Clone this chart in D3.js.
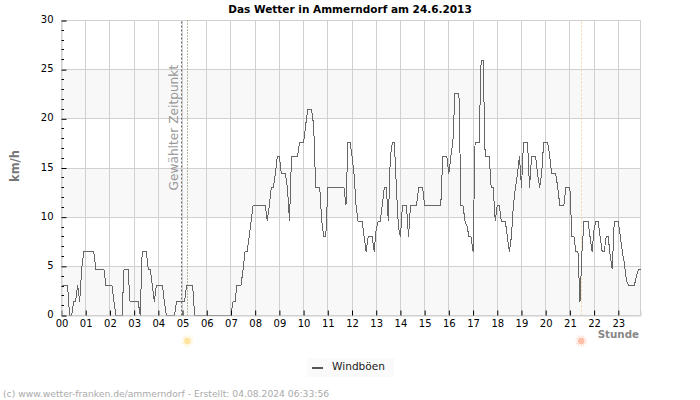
<!DOCTYPE html>
<html>
<head>
<meta charset="utf-8">
<script src="https://cdn.jsdelivr.net/npm/d3@7"></script>
<style>
  html, body { margin: 0; padding: 0; background: #fff; }
  svg { display: block; font-family: "DejaVu Sans", sans-serif; }
</style>
</head>
<body>
<div id="chart"></div>
<script>
var title = "Das Wetter in Ammerndorf am 24.6.2013";
var footer = "(c) www.wetter-franken.de/ammerndorf - Erstellt: 04.08.2024 06:33:56";
var hourLabels = ["00","01","02","03","04","05","06","07","08","09","10","11","12","13","14","15","16","17","18","19","20","21","22","23"];
var speedTicks = [0, 5, 10, 15, 20, 25, 30];
var minorTicks = [1,2,3,4,6,7,8,9,11,12,13,14,16,17,18,19,21,22,23,24,26,27,28,29];
var bands = [[0, 5], [10, 15], [20, 25]];

// in hours
var selectedTime = 4.94;
var sunrise = 5.2;
var sunset = 21.47;

// windboeen, one value every 5 minutes
var gusts = [
  3.1,3.1,3.1,3.1,0,0,1.4,1.4,3.1,1.4,4.7,6.5,
  6.5,6.5,6.5,6.5,6.5,4.7,4.7,4.7,4.7,4.7,3.1,3.1,
  3.1,3.1,1.4,0,0,0,0,4.7,4.7,4.7,1.4,1.4,
  1.4,1.4,1.4,0,6.5,6.5,6.5,4.7,4.7,3.1,1.4,3.1,
  3.1,3.1,3.1,1.4,0,0,0,0,0,1.4,1.4,1.4,
  1.4,1.4,3.1,3.1,3.1,3.1,0,0,0,0,0,0,
  0,0,0,0,0,0,0,0,0,0,0,0,
  0,1.4,1.4,3.1,3.1,3.1,4.7,6.5,6.5,8,9.6,11.2,
  11.2,11.2,11.2,11.2,11.2,11.2,9.6,11.2,13,13,14.4,16.2,
  16.2,14.4,14.4,14.4,13,9.6,16.2,16.2,16.2,16.2,17.6,17.6,
  17.6,19.3,20.9,20.9,20.9,19.3,13,13,13,9.6,8,8,
  13,13,13,13,13,13,13,13,13,11.2,17.6,17.6,
  16.2,14.4,11.2,9.6,9.6,9.6,8,6.5,8,8,8,
  6.5,8.8,9.6,9.6,11.2,13,13,9.6,16.2,17.6,17.6,13,
  9,8,11.2,11.2,11.2,8,11.2,11.2,11.2,11.2,13,13,
  13,11.2,11.2,11.2,11.2,11.2,11.2,11.2,11.2,11.2,16.2,16.2,
  16.2,14.4,16.2,17.6,22.6,22.6,22.6,11.2,11.2,9.6,9.1,8,
  8,6.5,17.6,17.6,17.6,25.9,25.9,16.2,16.2,16.2,13,13,
  9.6,11.2,11.2,9.6,9.6,9.6,8,6.5,8,11.2,13,14.4,
  16.2,13,17.6,17.6,17.6,13,16.2,16.2,16.2,14.4,13,14.4,
  17.6,17.6,17.6,16.2,14.4,14.4,14.4,13,11.2,11.2,11.2,13,
  13,13,8,8,6.5,6.5,1.4,6.5,9.6,9.6,9.6,8,
  6.5,8.8,9.6,9.6,8,6.5,6.5,8,8,6,4.7,9.6,
  9.6,9.6,8,6.5,5.3,3.6,3.1,3.1,3.1,3.1,4,4.7,4.7
];

var width = 700, height = 400;
var margin = {top: 20.5, right: 59.5, bottom: 84.5, left: 61.5};
var lastHour = (gusts.length - 1) / 12;

var x = d3.scaleLinear()
    .domain([0, lastHour])
    .range([margin.left, width - margin.right]);

var y = d3.scaleLinear()
    .domain([0, 30])
    .range([height - margin.bottom, margin.top]);

var svg = d3.select("#chart").append("svg")
    .attr("width", width)
    .attr("height", height);

// gestreifter hintergrund
svg.selectAll(".band")
  .data(bands)
  .enter().append("rect")
  .attr("class", "band")
  .attr("x", x(0))
  .attr("width", x(lastHour) - x(0))
  .attr("y", function(d) { return y(d[1]); })
  .attr("height", function(d) { return y(d[0]) - y(d[1]); })
  .style("fill", "#f8f8f8");

// grid
svg.selectAll(".hgrid")
  .data(speedTicks)
  .enter().append("line")
  .attr("x1", x(0))
  .attr("x2", x(lastHour))
  .attr("y1", function(d) { return Math.round(y(d) - 0.5) + 0.5; })
  .attr("y2", function(d) { return Math.round(y(d) - 0.5) + 0.5; })
  .style("stroke", "#d0d0d0");

svg.selectAll(".vgrid")
  .data(hourLabels)
  .enter().append("line")
  .attr("x1", function(d, i) { return Math.round(x(i) - 0.5) + 0.5; })
  .attr("x2", function(d, i) { return Math.round(x(i) - 0.5) + 0.5; })
  .attr("y1", y(0))
  .attr("y2", y(30))
  .style("stroke", "#d0d0d0");

svg.append("line")
  .attr("x1", x(lastHour)).attr("x2", x(lastHour))
  .attr("y1", y(0)).attr("y2", y(30))
  .style("stroke", "#d0d0d0");

// gewaehlter zeitpunkt und sonnenauf-/untergang
function marker(hour, color, dash) {
  svg.append("line")
    .attr("x1", Math.round(x(hour) - 0.5) + 0.5)
    .attr("x2", Math.round(x(hour) - 0.5) + 0.5)
    .attr("y1", y(0))
    .attr("y2", y(30))
    .style("stroke", color)
    .style("stroke-dasharray", dash);
}
marker(selectedTime, "#666", "2,2");
marker(sunrise, "#77703a", "1,2");
marker(sunset, "#f5d5a5", "2,2");

svg.append("text")
  .attr("transform", "translate(" + (x(selectedTime) - 3.5) + ",190.5) rotate(-90)")
  .style("font-size", "12.2px")
  .style("fill", "#999")
  .text("Gewählter Zeitpunkt");

var line = d3.line()
    .x(function(d, i) { return x(i / 12); })
    .y(function(d) { return y(d); });

svg.append("path")
  .datum(gusts)
  .attr("d", line)
  .style("fill", "none")
  .style("stroke", "#666")
  .style("stroke-width", 1)
  .style("shape-rendering", "crispEdges");

// achsen
var xAxis = d3.axisBottom(x)
    .tickValues(d3.range(hourLabels.length))
    .tickFormat(function(d) { return hourLabels[d]; })
    .tickSize(-5)
    .tickPadding(4.5);

var yAxis = d3.axisLeft(y)
    .tickValues(speedTicks)
    .tickSize(-5)
    .tickPadding(8);

var xG = svg.append("g")
    .attr("transform", "translate(0," + y(0) + ")")
    .call(xAxis);

var yG = svg.append("g")
    .attr("transform", "translate(" + x(0) + ",0)")
    .call(yAxis);

svg.selectAll(".minor")
  .data(minorTicks)
  .enter().append("line")
  .attr("x1", x(0))
  .attr("x2", x(0) + 2.5)
  .attr("y1", function(d) { return Math.round(y(d) - 0.5) + 0.5; })
  .attr("y2", function(d) { return Math.round(y(d) - 0.5) + 0.5; })
  .style("stroke", "#000");

xG.select(".domain").style("stroke", "#d0d0d0");
yG.select(".domain").style("stroke", "#d0d0d0");
xG.selectAll("text").style("font-size", "10px").style("font-family", "DejaVu Sans").style("fill", "#000");
yG.selectAll("text").style("font-size", "10px").style("font-family", "DejaVu Sans").style("fill", "#000")
  .attr("y", -1.2);

// sonnen-symbole
function sun(hour, color) {
  var g = svg.append("g")
      .attr("transform", "translate(" + x(hour) + ",341)");
  g.selectAll("line")
    .data(d3.range(12))
    .enter().append("line")
    .attr("x1", 0).attr("x2", 0)
    .attr("y1", -3).attr("y2", -6)
    .attr("transform", function(d) { return "rotate(" + d * 30 + ")"; })
    .style("stroke", color)
    .style("stroke-opacity", 0.55);
  g.append("circle")
    .attr("r", 3.2)
    .style("fill", color);
}
sun(sunrise, "#ffe6a0");
sun(sunset, "#ffbfa8");

// beschriftung
svg.append("text")
  .attr("x", 350)
  .attr("y", 13)
  .attr("text-anchor", "middle")
  .style("font-size", "10.5px")
  .style("font-weight", "bold")
  .style("fill", "#000")
  .text(title);

svg.append("text")
  .attr("transform", "translate(19,166) rotate(-90)")
  .attr("text-anchor", "middle")
  .style("font-size", "11.5px")
  .style("font-weight", "bold")
  .style("fill", "#777")
  .text("km/h");

svg.append("text")
  .attr("x", 639)
  .attr("y", 338)
  .attr("text-anchor", "end")
  .style("font-size", "10.3px")
  .style("font-weight", "bold")
  .style("fill", "#888")
  .text("Stunde");

// legende
svg.append("rect")
  .attr("x", 307)
  .attr("y", 358)
  .attr("width", 87)
  .attr("height", 19)
  .style("fill", "#fafafa");

svg.append("line")
  .attr("x1", 312)
  .attr("x2", 323)
  .attr("y1", 368)
  .attr("y2", 368)
  .style("stroke", "#555")
  .style("stroke-width", 2);

svg.append("text")
  .attr("x", 332)
  .attr("y", 370)
  .style("font-size", "10.6px")
  .style("fill", "#222")
  .text("Windböen");

svg.append("text")
  .attr("x", 3)
  .attr("y", 396.5)
  .style("font-size", "9.2px")
  .style("fill", "#aaa")
  .text(footer);
</script>
</body>
</html>
